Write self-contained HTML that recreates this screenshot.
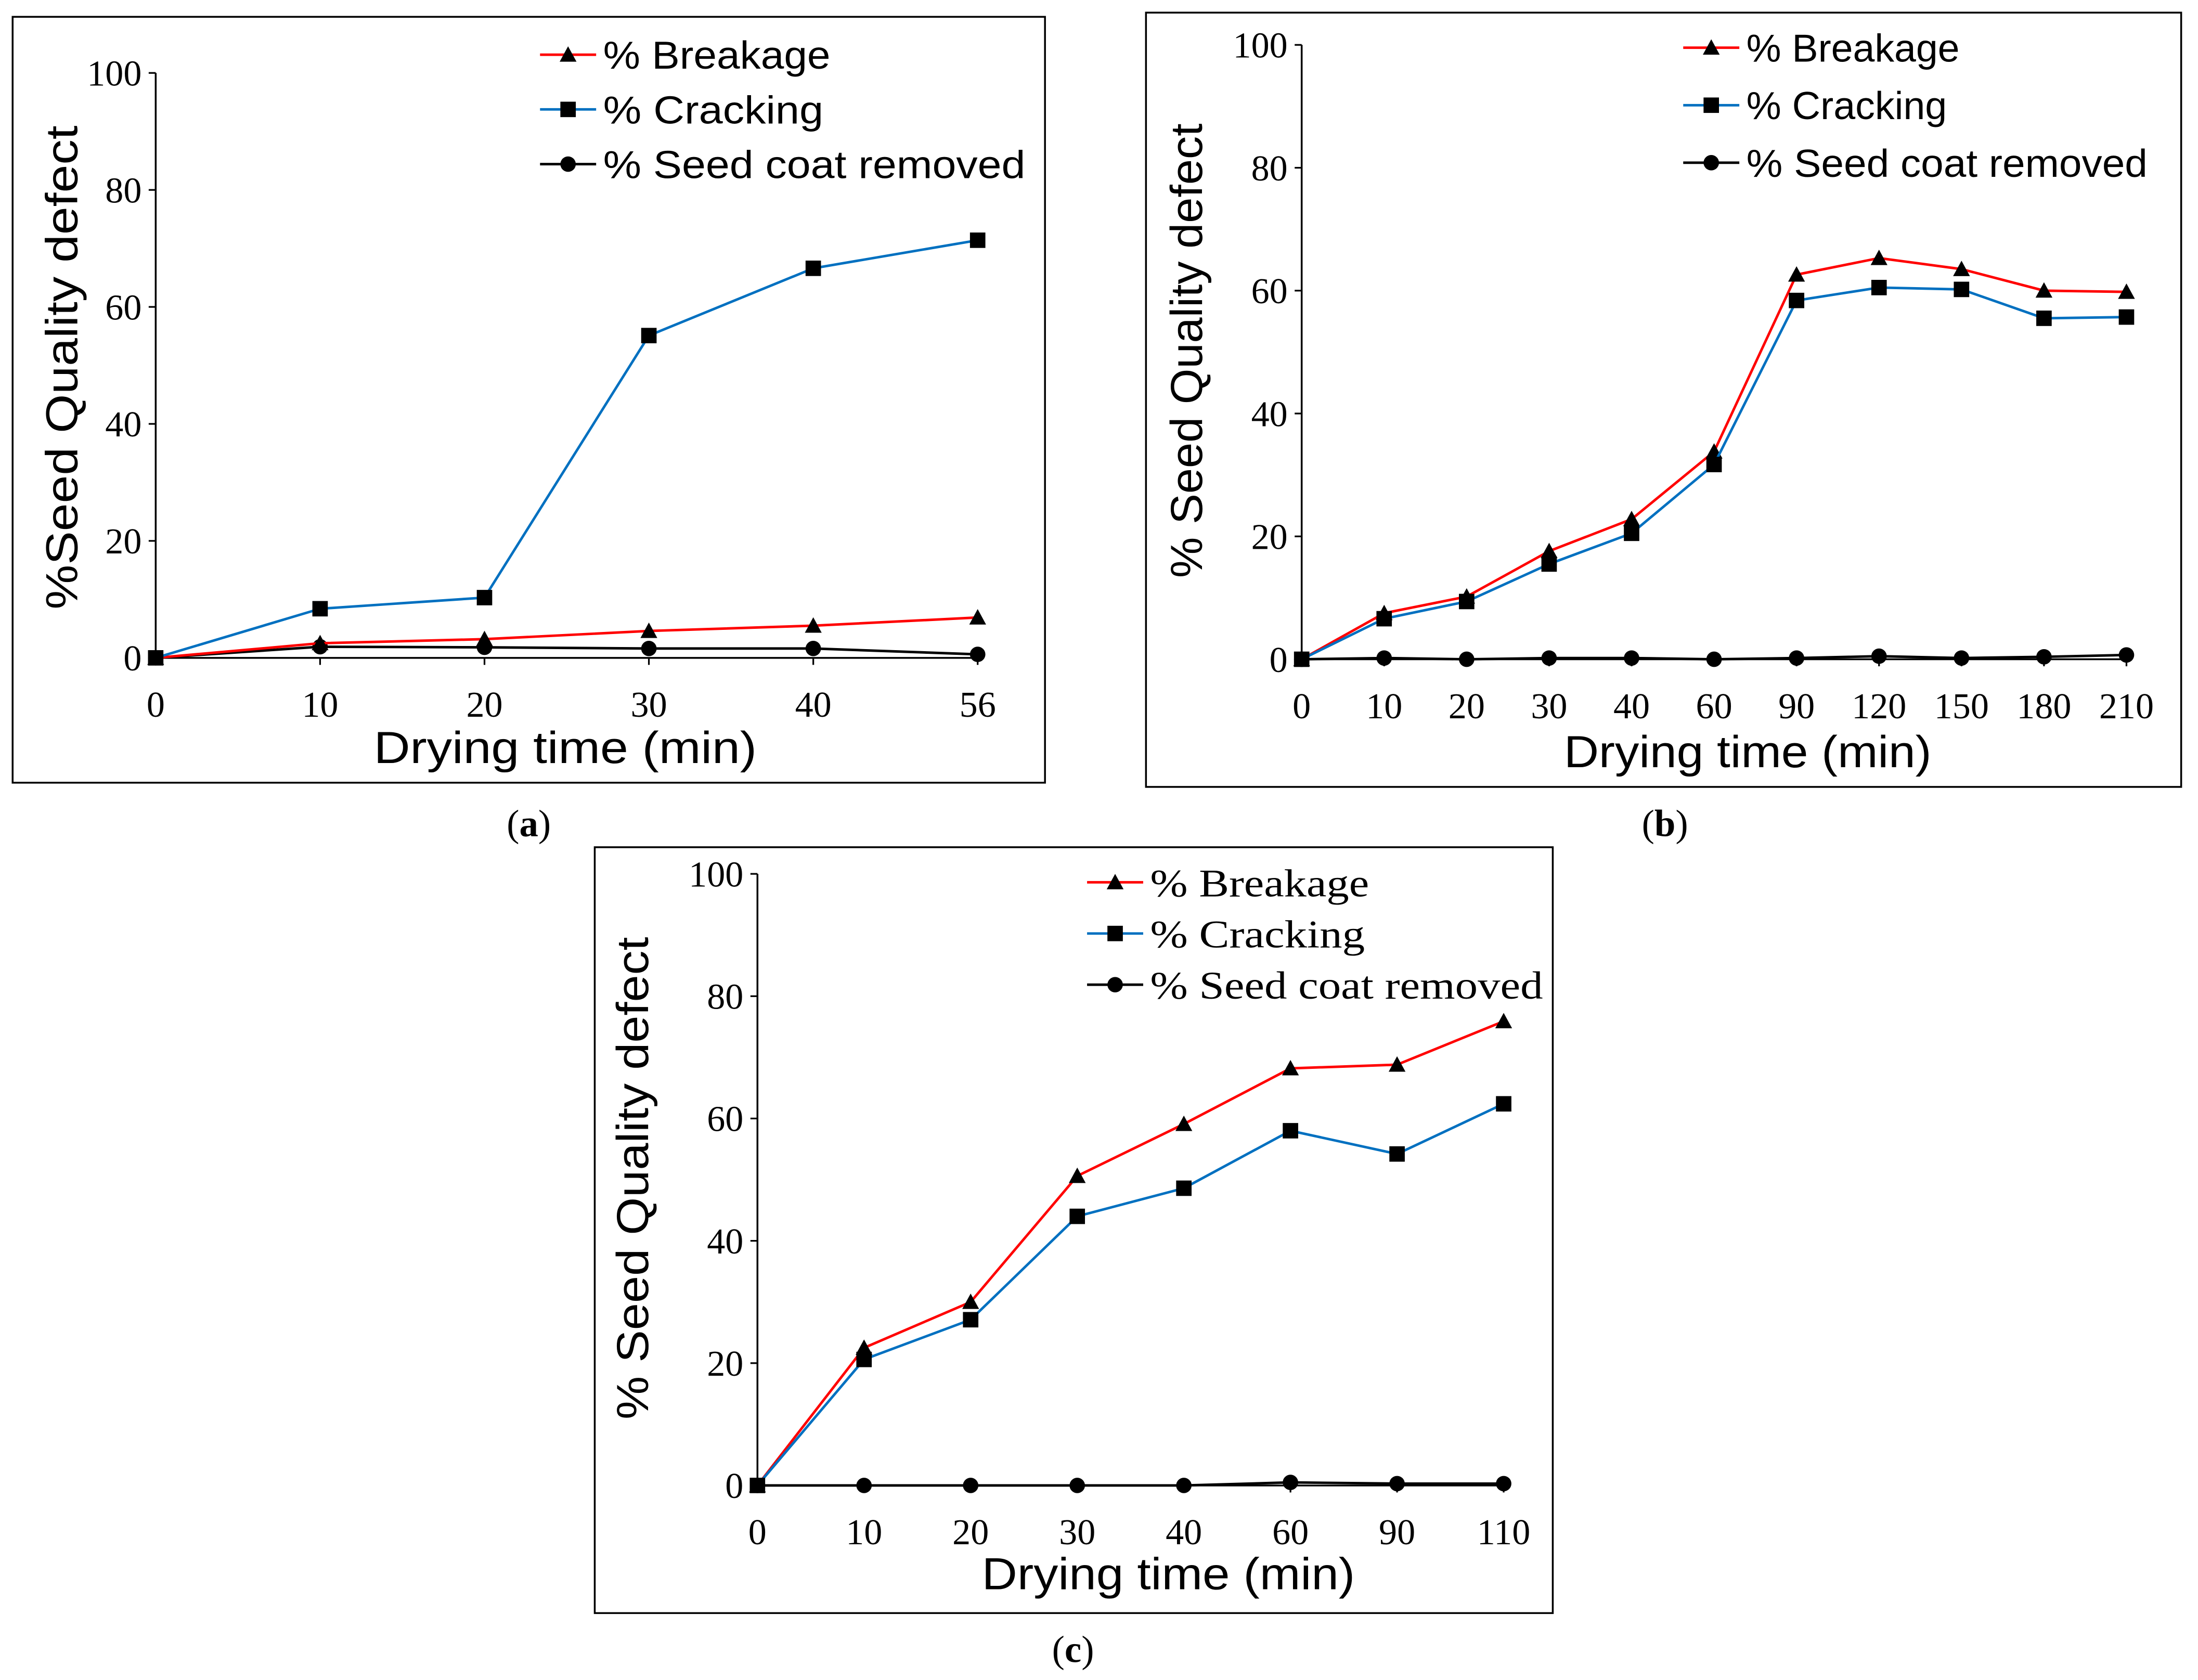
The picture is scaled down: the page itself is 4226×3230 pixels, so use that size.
<!DOCTYPE html>
<html><head><meta charset="utf-8"><style>
html,body{margin:0;padding:0;background:#fff}
svg{display:block}
</style></head><body>
<svg id="fig" width="4226" height="3230" viewBox="0 0 1567 1197.7" preserveAspectRatio="none" xmlns="http://www.w3.org/2000/svg"></svg>
<script>
// Panel (a)
const catsA = ["0","10","20","30","40","56"];
const breakA = [0, 2.5, 3.2, 4.6, 5.5, 6.9];
const crackA = [0, 8.4, 10.3, 55.1, 66.6, 71.4];
const coatA = [0, 1.9, 1.8, 1.6, 1.6, 0.6];
// Panel (b)
const catsB = ["0","10","20","30","40","60","90","120","150","180","210"];
const breakB = [0, 7.5, 10.2, 17.6, 22.8, 33.8, 62.6, 65.3, 63.5, 60.0, 59.8];
const crackB = [0, 6.6, 9.4, 15.5, 20.5, 31.7, 58.4, 60.5, 60.2, 55.5, 55.7];
const coatB = [0, 0.2, 0, 0.2, 0.2, 0, 0.2, 0.5, 0.2, 0.4, 0.7];
// Panel (c)
const catsC = ["0","10","20","30","40","60","90","110"];
const breakC = [0, 22.5, 30.0, 50.6, 59.1, 68.2, 68.8, 75.9];
const crackC = [0, 20.6, 27.1, 44.0, 48.6, 58.0, 54.2, 62.4];
const coatC = [0, 0, 0, 0, 0, 0.5, 0.3, 0.3];
const yTicks = [0, 20, 40, 60, 80, 100];

const NS = "http://www.w3.org/2000/svg";
const svg = document.getElementById("fig");
function mk(tag, attrs, parent, text){
  const e = document.createElementNS(NS, tag);
  for (const k in attrs) e.setAttribute(k, attrs[k]);
  if (text !== undefined) e.textContent = text;
  (parent||svg).appendChild(e);
  return e;
}
function marker(g, kind, x, y){
  let m;
  if (kind === "tri") m = mk("polygon", {points:`${x},${y-6} ${x-6},${y+5} ${x+6},${y+5}`, fill:"#000"}, g);
  else if (kind === "sq") m = mk("rect", {x:x-5.5, y:y-5.5, width:11, height:11, fill:"#000"}, g);
  else m = mk("circle", {cx:x, cy:y, r:5.5, fill:"#000"}, g);
  
  
}
function panel(cfg){
  const g = mk("g", {});
  
  
  const fr = mk("rect", {x:cfg.fx, y:cfg.fy, width:cfg.fw, height:cfg.fh, fill:"none", stroke:"#000", "stroke-width":1.3}, g);
  
  
  const n = cfg.cats.length;
  const xs = i => cfg.x0 + (cfg.x1 - cfg.x0) * i / (n - 1);
  const ys = v => cfg.y0 - (cfg.y0 - cfg.y100) * v / 100;
  const ya = mk("line", {x1:cfg.x0, y1:cfg.y100, x2:cfg.x0, y2:cfg.y0, stroke:"#000", "stroke-width":1.3}, g);
  
  
  const xa = mk("line", {x1:cfg.x0, y1:cfg.y0, x2:cfg.x1, y2:cfg.y0, stroke:"#000", "stroke-width":1.3}, g);
  
  
  yTicks.forEach(t => {
    const y = ys(t);
    mk("line", {x1:cfg.x0-5, y1:y, x2:cfg.x0, y2:y, stroke:"#000", "stroke-width":1.2}, g);
    const tl = mk("text", {x:cfg.x0-10, y:y+9, "text-anchor":"end", "font-family":"Liberation Serif, serif", "font-size":26}, g, String(t));
    
    
  });
  cfg.cats.forEach((c, i) => {
    const x = xs(i);
    mk("line", {x1:x, y1:cfg.y0, x2:x, y2:cfg.y0+5, stroke:"#000", "stroke-width":1.2}, g);
    const tl = mk("text", {x:x, y:cfg.y0+42, "text-anchor":"middle", "font-family":"Liberation Serif, serif", "font-size":26}, g, c);
    
    
  });
  const series = [
    {vals:cfg.coat, color:"#000", kind:"dot", name:"seed-coat-line"},
    {vals:cfg.brk, color:"#ff0000", kind:"tri", name:"breakage-line"},
    {vals:cfg.crk, color:"#0070c0", kind:"sq", name:"cracking-line"}
  ];
  series.forEach(s => {
    const pts = s.vals.map((v, i) => xs(i) + "," + ys(v)).join(" ");
    const pl = mk("polyline", {points:pts, fill:"none", stroke:s.color, "stroke-width":1.8}, g);
    
    
    s.vals.forEach((v, i) => marker(g, s.kind, xs(i), ys(v)));
  });
  const leg = mk("g", {}, g);
  
  
  const labels = [["% Breakage","#ff0000","tri"],["% Cracking","#0070c0","sq"],["% Seed coat removed","#000","dot"]];
  labels.forEach((l, k) => {
    const y = cfg.ly + k * cfg.lstep;
    mk("line", {x1:cfg.lx, y1:y, x2:cfg.lx+40, y2:y, stroke:l[1], "stroke-width":1.8}, leg);
    marker(leg, l[2], cfg.lx+20, y);
    const t = mk("text", {x:cfg.lx+45, y:y+10, "font-family":cfg.lfont, "font-size":cfg.lsize, textLength:cfg.lw[k], lengthAdjust:"spacingAndGlyphs"}, leg, l[0]);
    
    
  });
  const yt = mk("text", {x:0, y:0, transform:`translate(${cfg.ytx},${cfg.yty}) rotate(-90)`, "text-anchor":"middle", "font-family":"Liberation Sans, sans-serif", "font-size":32, textLength:cfg.ytl, lengthAdjust:"spacingAndGlyphs"}, g, cfg.ytitle);
  
  
  const xt = mk("text", {x:cfg.xtx, y:cfg.xty, "text-anchor":"middle", "font-family":"Liberation Sans, sans-serif", "font-size":32, textLength:cfg.xtl, lengthAdjust:"spacingAndGlyphs"}, g, cfg.xtitle);
  
  
  const cap = mk("text", {x:cfg.cx, y:cfg.cy, "text-anchor":"middle", "font-family":"Liberation Serif, serif", "font-size":27}, g, "(");
  
  
  mk("tspan", {"font-weight":"bold"}, cap, cfg.id);
  mk("tspan", {}, cap, ")");
}
panel({id:"a", fx:9, fy:12, fw:736, fh:546, x0:111, x1:697, y0:469, y100:52, cats:catsA, brk:breakA, crk:crackA, coat:coatA,
  lx:385, ly:39, lstep:39, lfont:"Liberation Sans, sans-serif", lsize:28, lw:[162,157,301], ytitle:"%Seed  Quality defect", ytx:55, yty:262, ytl:345,
  xtitle:"Drying  time (min)", xtx:403, xty:544, xtl:273, cx:377, cy:596});
panel({id:"b", fx:817, fy:9, fw:738, fh:552, x0:928, x1:1516, y0:470, y100:32, cats:catsB, brk:breakB, crk:crackB, coat:coatB,
  lx:1200, ly:34, lstep:41, lfont:"Liberation Sans, sans-serif", lsize:28, lw:[152,143,286], ytitle:"% Seed Quality defect", ytx:857, yty:250, ytl:324,
  xtitle:"Drying time (min)", xtx:1246, xty:547, xtl:262, cx:1187, cy:596});
panel({id:"c", fx:424, fy:604, fw:683, fh:546, x0:540, x1:1072, y0:1059, y100:623, cats:catsC, brk:breakC, crk:crackC, coat:coatC,
  lx:775, ly:629, lstep:36.5, lfont:"Liberation Serif, serif", lsize:28, lw:[156,153,280], ytitle:"% Seed Quality defect", ytx:462, yty:840, ytl:344,
  xtitle:"Drying time (min)", xtx:833, xty:1133, xtl:266, cx:765, cy:1185});
</script>
</body></html>
